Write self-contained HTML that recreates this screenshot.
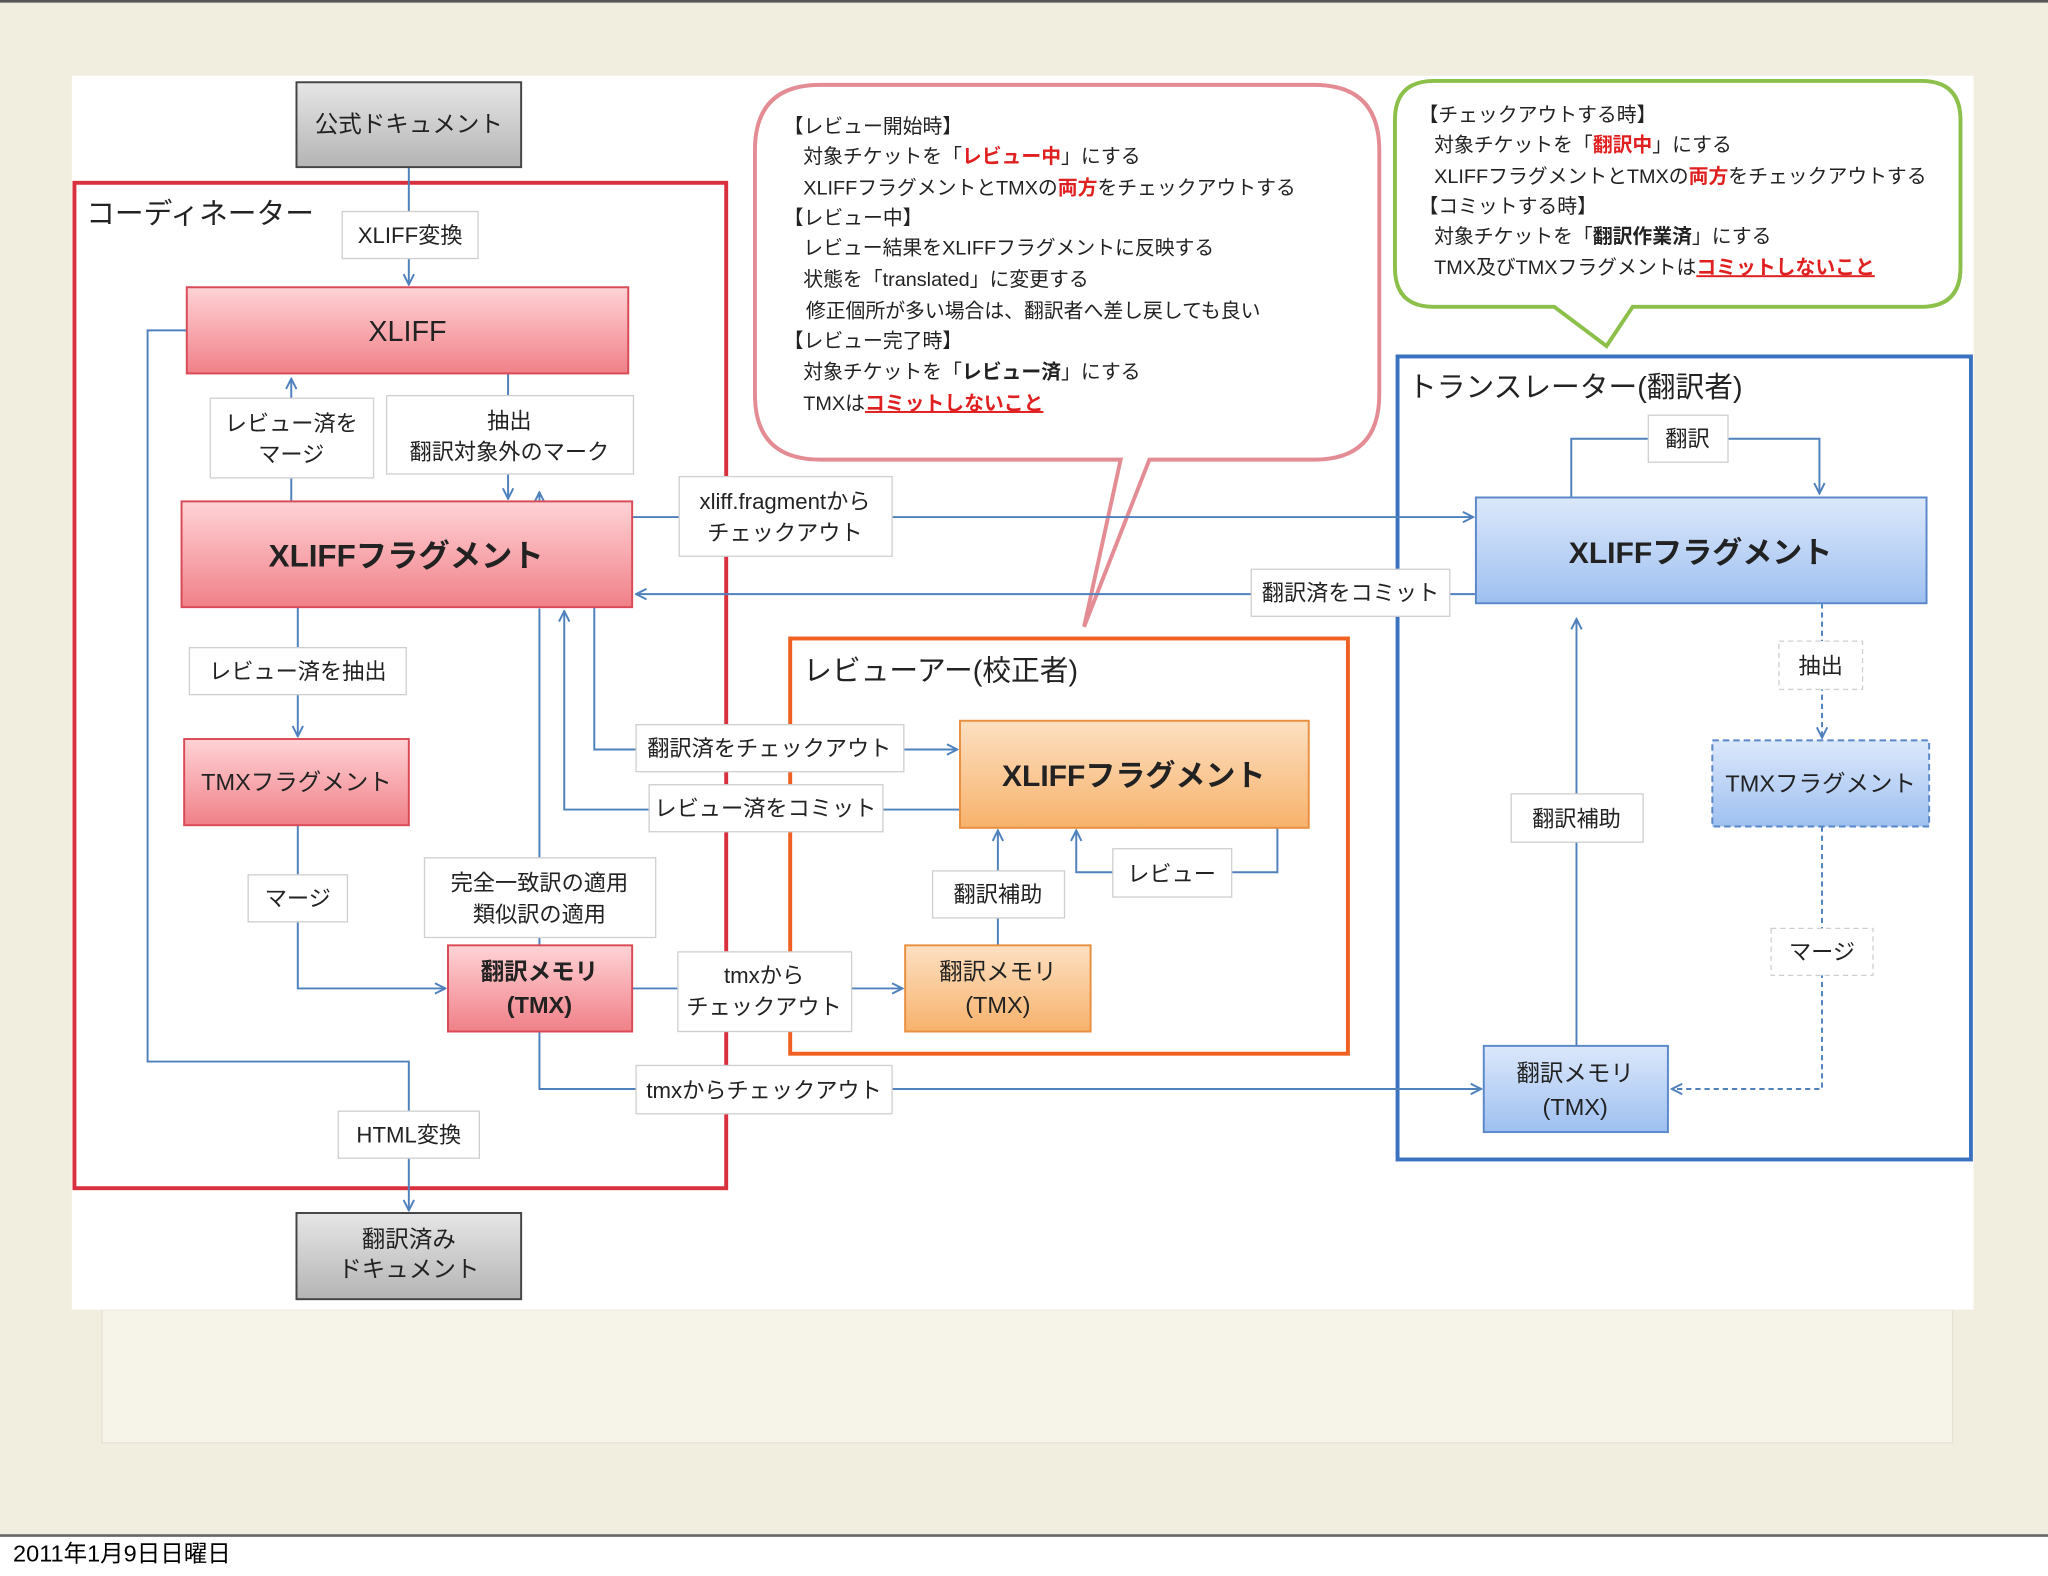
<!DOCTYPE html>
<html><head><meta charset="utf-8"><style>
html,body{margin:0;padding:0;background:#fff}
svg{display:block}
text{font-family:"Liberation Sans","Noto Sans CJK JP",sans-serif;fill:#222}
</style></head><body>
<svg width="2048" height="1576" viewBox="0 0 1568 1207" preserveAspectRatio="none" xmlns="http://www.w3.org/2000/svg">
<defs>
<linearGradient id="gray" x1="0" y1="0" x2="0" y2="1"><stop offset="0" stop-color="#e6e6e6"/><stop offset="1" stop-color="#b4b4b4"/></linearGradient>
<linearGradient id="red" x1="0" y1="0" x2="0" y2="1"><stop offset="0" stop-color="#ffd3d6"/><stop offset="1" stop-color="#f08088"/></linearGradient>
<linearGradient id="org" x1="0" y1="0" x2="0" y2="1"><stop offset="0" stop-color="#fde0c2"/><stop offset="1" stop-color="#f7b26c"/></linearGradient>
<linearGradient id="blu" x1="0" y1="0" x2="0" y2="1"><stop offset="0" stop-color="#dce8fb"/><stop offset="1" stop-color="#9ec0f0"/></linearGradient>
<marker id="a" markerWidth="10" markerHeight="10" refX="9" refY="5" orient="auto" markerUnits="userSpaceOnUse"><path d="M1,1 L9,5 L1,9" fill="none" stroke="#4f81bd" stroke-width="1.5"/></marker>
</defs>
<rect width="1568" height="1177" fill="#f2eedf"/>
<rect x="0" y="0" width="1568" height="2" fill="#555"/>
<rect x="0" y="1175" width="1568" height="2" fill="#666"/>
<rect x="78" y="1003" width="1417" height="102" fill="#f6f3e8" stroke="#e6e2d6"/>
<rect x="55" y="58" width="1456" height="945" fill="#fff"/>
<text x="10" y="1196" font-size="18" style="fill:#000">2011年1月9日日曜日</text>

<!-- callouts -->
<path d="M628,65 H1006 Q1056,65 1056,115 V302 Q1056,352 1006,352 H880 L830,480 L858,352 H628 Q578,352 578,302 V115 Q578,65 628,65 Z" fill="#fff" stroke="#e48c94" stroke-width="3"/>
<path d="M1098,62 H1471 Q1501,62 1501,92 V205 Q1501,235 1471,235 H1250 L1230,265 L1190,235 H1098 Q1068,235 1068,205 V92 Q1068,62 1098,62 Z" fill="#fff" stroke="#8cc04a" stroke-width="3"/>
<g font-size="15.2">
<text x="600" y="102">【レビュー開始時】</text>
<text x="615" y="125">対象チケットを「<tspan style="fill:#e02020;font-weight:bold">レビュー中</tspan>」にする</text>
<text x="615" y="149">XLIFFフラグメントとTMXの<tspan style="fill:#e02020;font-weight:bold">両方</tspan>をチェックアウトする</text>
<text x="600" y="172">【レビュー中】</text>
<text x="615" y="195">レビュー結果をXLIFFフラグメントに反映する</text>
<text x="615" y="219">状態を「translated」に変更する</text>
<text x="617" y="243">修正個所が多い場合は、翻訳者へ差し戻しても良い</text>
<text x="600" y="266">【レビュー完了時】</text>
<text x="615" y="290">対象チケットを「<tspan style="font-weight:bold">レビュー済</tspan>」にする</text>
<text x="615" y="314">TMXは<tspan style="fill:#e02020;font-weight:bold;text-decoration:underline">コミットしないこと</tspan></text>
<text x="1086" y="93">【チェックアウトする時】</text>
<text x="1098" y="116">対象チケットを「<tspan style="fill:#e02020;font-weight:bold">翻訳中</tspan>」にする</text>
<text x="1098" y="140">XLIFFフラグメントとTMXの<tspan style="fill:#e02020;font-weight:bold">両方</tspan>をチェックアウトする</text>
<text x="1086" y="163">【コミットする時】</text>
<text x="1098" y="186">対象チケットを「<tspan style="font-weight:bold">翻訳作業済</tspan>」にする</text>
<text x="1098" y="210">TMX及びTMXフラグメントは<tspan style="fill:#e02020;font-weight:bold;text-decoration:underline">コミットしないこと</tspan></text>
</g>

<!-- group frames -->
<rect x="57" y="140" width="499" height="770" fill="none" stroke="#d9303e" stroke-width="3"/>
<text x="66" y="171" font-size="22">コーディネーター</text>
<rect x="605" y="489" width="427" height="318" fill="none" stroke="#f06020" stroke-width="3"/>
<text x="615" y="521" font-size="22">レビューアー(校正者)</text>
<rect x="1070" y="273" width="439" height="615" fill="none" stroke="#3a72c0" stroke-width="3"/>
<text x="1078" y="304" font-size="22">トランスレーター(翻訳者)</text>

<!-- connectors -->
<g fill="none" stroke="#4f81bd" stroke-width="1.5">
<path d="M313,128 V218" marker-end="url(#a)"/>
<path d="M143,253 H113 V813 H313 V927" marker-end="url(#a)"/>
<path d="M223,384 V290" marker-end="url(#a)"/>
<path d="M389,286 V382" marker-end="url(#a)"/>
<path d="M413,724 V466"/>
<path d="M413,384 V377" marker-end="url(#a)"/>
<path d="M484,396 H1128" marker-end="url(#a)"/>
<path d="M1130,455 H487" marker-end="url(#a)"/>
<path d="M228,465 V564" marker-end="url(#a)"/>
<path d="M228,632 V757 H341" marker-end="url(#a)"/>
<path d="M455,465 V574 H733" marker-end="url(#a)"/>
<path d="M735,620 H432 V468" marker-end="url(#a)"/>
<path d="M484,757 H691" marker-end="url(#a)"/>
<path d="M764,724 V636" marker-end="url(#a)"/>
<path d="M978,634 V668 H824 V636" marker-end="url(#a)"/>
<path d="M413,790 V834 H1134" marker-end="url(#a)"/>
<path d="M1207,801 V474" marker-end="url(#a)"/>
<path d="M1203,381 V336 H1393 V378" marker-end="url(#a)"/>
<path d="M1395,462 V565" stroke-dasharray="4,3" marker-end="url(#a)"/>
<path d="M1395,633 V834 H1280" stroke-dasharray="4,3" marker-end="url(#a)"/>
</g>

<!-- main boxes -->
<g stroke-width="1.5">
<rect x="227" y="63" width="172" height="65" fill="url(#gray)" stroke="#444"/>
<rect x="227" y="929" width="172" height="66" fill="url(#gray)" stroke="#444"/>
<rect x="143" y="220" width="338" height="66" fill="url(#red)" stroke="#d84a55"/>
<rect x="139" y="384" width="345" height="81" fill="url(#red)" stroke="#d84a55"/>
<rect x="141" y="566" width="172" height="66" fill="url(#red)" stroke="#d84a55"/>
<rect x="343" y="724" width="141" height="66" fill="url(#red)" stroke="#d84a55"/>
<rect x="735" y="552" width="267" height="82" fill="url(#org)" stroke="#e89040"/>
<rect x="693" y="724" width="142" height="66" fill="url(#org)" stroke="#e89040"/>
<rect x="1130" y="381" width="345" height="81" fill="url(#blu)" stroke="#5a88c8"/>
<rect x="1311" y="567" width="166" height="66" fill="url(#blu)" stroke="#5a88c8" stroke-dasharray="5,3"/>
<rect x="1136" y="801" width="141" height="66" fill="url(#blu)" stroke="#5a88c8"/>
</g>
<g font-size="18" text-anchor="middle">
<text x="313" y="101">公式ドキュメント</text>
<text x="313" y="955">翻訳済み</text><text x="313" y="978">ドキュメント</text>
<text x="312" y="261" font-size="22">XLIFF</text>
<text x="311" y="434" font-size="24" font-weight="bold">XLIFFフラグメント</text>
<text x="227" y="605">TMXフラグメント</text>
<text x="413" y="750" font-weight="bold">翻訳メモリ</text><text x="413" y="776" font-weight="bold">(TMX)</text>
<text x="868" y="602" font-size="23" font-weight="bold">XLIFFフラグメント</text>
<text x="764" y="750">翻訳メモリ</text><text x="764" y="776">(TMX)</text>
<text x="1302" y="431" font-size="23" font-weight="bold">XLIFFフラグメント</text>
<text x="1394" y="606">TMXフラグメント</text>
<text x="1206" y="828">翻訳メモリ</text><text x="1206" y="854">(TMX)</text>
</g>

<!-- labels -->
<g fill="#fff" stroke="#cfcfcf" stroke-width="1">
<rect x="262" y="162" width="104" height="36"/>
<rect x="161" y="305" width="125" height="61"/>
<rect x="296" y="303" width="189" height="60"/>
<rect x="520" y="365" width="163" height="61"/>
<rect x="958" y="436" width="152" height="36"/>
<rect x="145" y="496" width="166" height="36"/>
<rect x="190" y="670" width="76" height="36"/>
<rect x="325" y="657" width="177" height="61"/>
<rect x="519" y="729" width="133" height="61"/>
<rect x="487" y="816" width="196" height="37"/>
<rect x="259" y="851" width="108" height="36"/>
<rect x="487" y="555" width="205" height="36"/>
<rect x="497" y="601" width="179" height="36"/>
<rect x="714" y="667" width="101" height="36"/>
<rect x="852" y="650" width="91" height="37"/>
<rect x="1262" y="318" width="61" height="36"/>
<rect x="1157" y="608" width="101" height="37"/>
<rect x="1362" y="491" width="64" height="37" stroke-dasharray="4,3"/>
<rect x="1356" y="711" width="78" height="36" stroke-dasharray="4,3"/>
</g>
<g font-size="17" text-anchor="middle">
<text x="314" y="186">XLIFF変換</text>
<text x="223" y="330">レビュー済を</text><text x="223" y="354">マージ</text>
<text x="390" y="328">抽出</text><text x="390" y="352">翻訳対象外のマーク</text>
<text x="601" y="390">xliff.fragmentから</text><text x="601" y="414">チェックアウト</text>
<text x="1034" y="460">翻訳済をコミット</text>
<text x="228" y="520">レビュー済を抽出</text>
<text x="228" y="694">マージ</text>
<text x="413" y="682">完全一致訳の適用</text><text x="413" y="706">類似訳の適用</text>
<text x="585" y="753">tmxから</text><text x="585" y="777">チェックアウト</text>
<text x="585" y="841">tmxからチェックアウト</text>
<text x="313" y="875">HTML変換</text>
<text x="589" y="579">翻訳済をチェックアウト</text>
<text x="586" y="625">レビュー済をコミット</text>
<text x="764" y="691">翻訳補助</text>
<text x="897" y="675">レビュー</text>
<text x="1292" y="342">翻訳</text>
<text x="1207" y="633">翻訳補助</text>
<text x="1394" y="516">抽出</text>
<text x="1395" y="735">マージ</text>
</g>
</svg>
</body></html>
